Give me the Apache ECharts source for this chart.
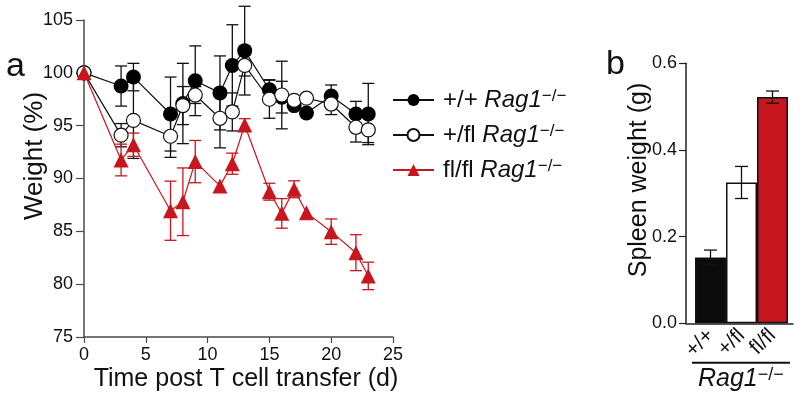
<!DOCTYPE html>
<html>
<head>
<meta charset="utf-8">
<script src="https://cdn.jsdelivr.net/npm/echarts@6/dist/echarts.min.js"></script>
<style>
  html, body { margin: 0; padding: 0; background: #fff; }
  #chart { width: 800px; height: 403px; }
</style>
</head>
<body>
<div id="chart"></div>
<script>
// ---- Data ----
const days = [0, 3, 4, 7, 8, 9, 11, 12, 13, 15, 16, 17, 18, 20, 22, 23];
const wtWeight   = [100, 98.75, 99.6, 96.1, 97.1, 99.25, 98.1, 100.7, 102.1, 98.4, 97.7, 96.9, 96.2, 97.8, 96.1, 96.1];
const wtErr      = [0, 1.9, 1.3, 3.5, 3.8, 3.3, 3.5, 3.85, 4.2, 0.95, 1.5, 0, 0, 1.05, 1.2, 2.9];
const hetWeight  = [100, 94.1, 95.5, 94.0, 96.9, 97.9, 95.7, 96.3, 100.7, 97.5, 97.9, 97.4, 97.6, 97.05, 94.85, 94.6];
const hetErr     = [0, 1.1, 3.6, 2.0, 1.8, 0.8, 2.8, 1.8, 1.0, 1.8, 3.2, 0, 0, 1.0, 1.4, 1.2];
const koWeight   = [100, 91.75, 93.2, 86.95, 87.8, 91.6, 89.3, 91.4, 95.06, 88.75, 86.7, 88.98, 86.77, 84.97, 82.98, 80.78];
const koErr      = [0, 1.5, 1.1, 2.8, 3.2, 2.0, 0, 1.0, 0.6, 0.8, 1.4, 0.8, 0, 1.2, 1.7, 1.3];
const groupNames = ['+/+', '+/fl', 'fl/fl'];
const xTicks = [0, 5, 10, 15, 20, 25];
const yTicks = [75, 80, 85, 90, 95, 100, 105];
const spleenCats = ['+/+', '+/fl', 'fl/fl'];
const spleenWeight = [0.152, 0.325, 0.522];
const spleenErr = [0.017, 0.037, 0.014];
const spleenTicks = [0.0, 0.2, 0.4, 0.6];

const RED = '#c8161e';
const AXIS = '#4a4a4a';
const FONT = '"Liberation Sans", Arial, Helvetica, sans-serif';

const chart = echarts.init(document.getElementById('chart'), null, { renderer: 'canvas' });

function errRender(color, capHalf) {
  return function (params, api) {
    const x = api.value(0), y = api.value(1), e = api.value(2);
    if (!e) return null;
    const top = api.coord([x, y + e]);
    const bot = api.coord([x, y - e]);
    const st = { stroke: color, lineWidth: 1.3 };
    return {
      type: 'group',
      children: [
        { type: 'line', shape: { x1: top[0], y1: top[1], x2: bot[0], y2: bot[1] }, style: st },
        { type: 'line', shape: { x1: top[0] - capHalf, y1: top[1], x2: top[0] + capHalf, y2: top[1] }, style: st },
        { type: 'line', shape: { x1: bot[0] - capHalf, y1: bot[1], x2: bot[0] + capHalf, y2: bot[1] }, style: st }
      ]
    };
  };
}

const pairs = (vals) => days.map((d, i) => [d, vals[i]]);
const triples = (vals, errs) => days.map((d, i) => [d, vals[i], errs[i]]);

const legendFmt = (name) => '{n|' + name + ' }{i|Rag1}{s|\u2212/\u2212}';

const option = {
  backgroundColor: '#fff',
  animation: false,
  textStyle: { fontFamily: FONT },
  grid: [
    { left: 84, top: 20, width: 309, height: 317 },
    { left: 686, top: 63.3, width: 107, height: 260 },
    { left: 695, top: 63.3, width: 93, height: 260 }
  ],
  xAxis: [
    {
      gridIndex: 0, type: 'value', min: xTicks[0], max: xTicks[xTicks.length - 1], interval: 5,
      axisLine: { lineStyle: { color: AXIS, width: 1.5 } },
      axisTick: { length: 6, lineStyle: { color: AXIS, width: 1.2 } },
      axisLabel: { color: '#111', fontSize: 18, margin: 9, fontFamily: FONT },
      splitLine: { show: false }
    },
    {
      gridIndex: 1, type: 'value', min: 0, max: 1,
      axisLine: { lineStyle: { color: '#222', width: 1.5 } },
      axisTick: { show: false }, axisLabel: { show: false }, splitLine: { show: false }
    },
    {
      gridIndex: 2, type: 'category', data: spleenCats,
      axisLine: { show: false }, axisTick: { show: false },
      axisLabel: { color: '#111', fontSize: 21, rotate: 45, margin: 9, fontFamily: FONT, interval: 0 }
    }
  ],
  yAxis: [
    {
      gridIndex: 0, type: 'value', min: yTicks[0], max: yTicks[yTicks.length - 1], interval: 5,
      axisLine: { show: true, lineStyle: { color: AXIS, width: 1.5 } },
      axisTick: { show: true, length: 8, lineStyle: { color: AXIS, width: 1.2 } },
      axisLabel: { color: '#111', fontSize: 18, margin: 11, fontFamily: FONT },
      splitLine: { show: false }
    },
    {
      gridIndex: 1, type: 'value', min: spleenTicks[0], max: spleenTicks[spleenTicks.length - 1], interval: 0.2,
      axisLine: { show: true, lineStyle: { color: '#222', width: 1.5 } },
      axisTick: { show: true, length: 7, lineStyle: { color: '#222', width: 1.2 } },
      axisLabel: { color: '#111', fontSize: 18, margin: 9, fontFamily: FONT, formatter: (v) => v.toFixed(1) },
      splitLine: { show: false }
    },
    {
      gridIndex: 2, type: 'value', min: 0, max: 0.6, show: false
    }
  ],
  legend: {
    orient: 'vertical', left: 392, top: 88, padding: 0, itemWidth: 41, itemHeight: 15, itemGap: 11,
    data: groupNames,
    formatter: legendFmt,
    textStyle: {
      color: '#111', fontSize: 24, padding: [0, 0, 0, 4],
      rich: {
        n: { fontSize: 24, fontFamily: FONT, color: '#111' },
        i: { fontSize: 24, fontFamily: FONT, fontStyle: 'italic', color: '#111' },
        s: { fontSize: 17, fontFamily: FONT, color: '#111', verticalAlign: 'top' }
      }
    }
  },
  series: [
    { type: 'custom', name: 'errWt', xAxisIndex: 0, yAxisIndex: 0, renderItem: errRender('#111', 6), data: triples(wtWeight, wtErr), z: 1 },
    { type: 'custom', name: 'errHet', xAxisIndex: 0, yAxisIndex: 0, renderItem: errRender('#111', 6), data: triples(hetWeight, hetErr), z: 1 },
    { type: 'custom', name: 'errKo', xAxisIndex: 0, yAxisIndex: 0, renderItem: errRender(RED, 6), data: triples(koWeight, koErr), z: 1 },
    {
      type: 'line', name: groupNames[0], xAxisIndex: 0, yAxisIndex: 0, data: pairs(wtWeight),
      symbol: 'circle', symbolSize: 15, z: 3,
      lineStyle: { color: '#111', width: 1.2 },
      itemStyle: { color: '#000', borderColor: '#000', borderWidth: 0 }
    },
    {
      type: 'line', name: groupNames[1], xAxisIndex: 0, yAxisIndex: 0, data: pairs(hetWeight),
      symbol: 'circle', symbolSize: 14, z: 3,
      lineStyle: { color: '#111', width: 1.2 },
      itemStyle: { color: '#fff', borderColor: '#111', borderWidth: 1.2 }
    },
    {
      type: 'line', name: groupNames[2], xAxisIndex: 0, yAxisIndex: 0, data: pairs(koWeight),
      symbol: 'triangle', symbolSize: 15, z: 4,
      lineStyle: { color: RED, width: 1.2 },
      itemStyle: { color: RED, borderWidth: 0 }
    },
    {
      type: 'bar', name: 'spleen', xAxisIndex: 2, yAxisIndex: 2, barWidth: 31, barCategoryGap: 0,
      data: spleenWeight.map((v, i) => ({
        value: v,
        itemStyle: { color: ['#0b0b0b', '#ffffff', RED][i], borderColor: '#111', borderWidth: 1.5 }
      })),
      z: 2
    },
    {
      type: 'custom', name: 'errSpleen', xAxisIndex: 2, yAxisIndex: 2, renderItem: errRender('#111', 6.5),
      data: spleenCats.map((c, i) => [i, spleenWeight[i], spleenErr[i]]), z: 3
    }
  ],
  graphic: [
    { type: 'text', left: 6, top: 50, style: { text: 'a', font: '34px ' + FONT, fill: '#111' } },
    { type: 'text', left: 606, top: 48, style: { text: 'b', font: '34px ' + FONT, fill: '#111' } },
    { type: 'text', x: 35, y: 156, rotation: Math.PI / 2,
      style: { text: 'Weight (%)', font: '26px ' + FONT, fill: '#111', align: 'center', verticalAlign: 'middle' } },
    { type: 'text', x: 246, y: 379,
      style: { text: 'Time post T cell transfer (d)', font: '25px ' + FONT, fill: '#111', align: 'center', verticalAlign: 'middle' } },
    { type: 'text', x: 639, y: 180, rotation: Math.PI / 2,
      style: { text: 'Spleen weight (g)', font: '25px ' + FONT, fill: '#111', align: 'center', verticalAlign: 'middle' } },
    { type: 'line', shape: { x1: 692, y1: 362.7, x2: 790, y2: 362.7 }, style: { stroke: '#111', lineWidth: 2 } },
    { type: 'text', x: 698, y: 379,
      style: {
        text: '{i|Rag1}{s|\u2212/\u2212}', align: 'left', verticalAlign: 'middle',
        rich: {
          i: { font: 'italic 25px ' + FONT, fill: '#111' },
          s: { font: '18px ' + FONT, fill: '#111', verticalAlign: 'top' }
        }
      }
    }
  ]
};

chart.setOption(option);
</script>
</body>
</html>
